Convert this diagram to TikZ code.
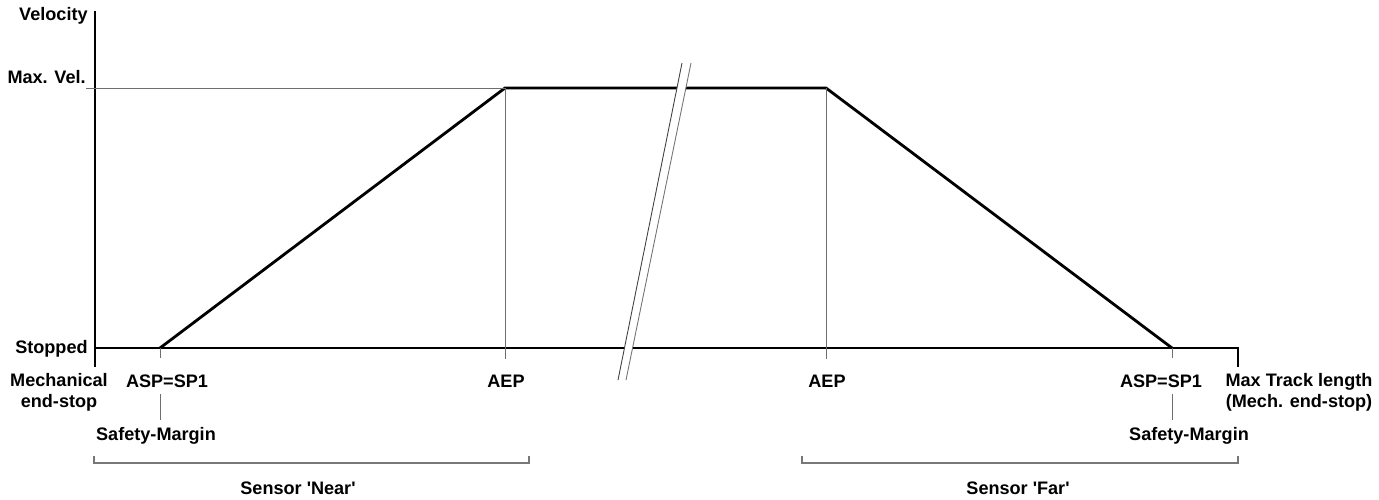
\documentclass[tikz,border=0pt]{standalone}
\usepackage{fontspec}
\setmainfont{Liberation Sans}
\usepackage{xcolor}
\usepackage{tikz}
\usetikzlibrary{positioning, calc}
\definecolor{guidegray}{RGB}{110, 110, 110}
\definecolor{bracketgray}{RGB}{120, 120, 120}

\begin{document}
\begin{tikzpicture}[x=0.02cm, y=-0.02cm,
  lbl/.style={font=\fontsize{10.3}{11.4}\selectfont\bfseries, inner sep=0pt, align=center, anchor=base},
  axisline/.style={line width=1.6pt, line cap=rect},
  profile/.style={line width=1.6pt, line join=miter},
  guide/.style={draw=guidegray, line width=0.55pt},
  bracket/.style={draw=bracketgray, line width=0.6pt},
  breakmark/.style={draw=black!75, line width=0.5pt}
]
\useasboundingbox (0,0) rectangle (1379,500);

% Axes
\coordinate (ytop) at (95,12);
\coordinate (origin) at (95,348);
\coordinate (ybot) at (95,366);
\coordinate (xend) at (1238,348);
\coordinate (xtick) at (1238,366);
\draw[axisline] (ytop) -- (ybot);
\draw[axisline] (origin) -- (xend) -- (xtick);

% Velocity profile
\coordinate (asp1) at (160,348);
\coordinate (aep1) at (505,88);
\coordinate (aep2) at (826,88);
\coordinate (asp2) at (1172,348);
\draw[profile] (asp1) -- (aep1) -- (aep2) -- (asp2);

% Guide lines
\coordinate (maxvel) at (86,88);
\coordinate (aep1b) at (505,359);
\coordinate (aep2b) at (826,359);
\coordinate (asp1b) at (160,358);
\coordinate (asp2b) at (1172,358);
\draw[guide] (maxvel) -- (aep1);
\draw[guide] (aep1) -- (aep1b);
\draw[guide] (aep2) -- (aep2b);
\draw[guide] (asp1) -- (asp1b);
\draw[guide] (asp2) -- (asp2b);

% Axis break
\coordinate (brkA) at (682,63);
\coordinate (brkB) at (691,63);
\coordinate (brkC) at (626,380);
\coordinate (brkD) at (618,380);
\fill[white] (brkA) -- (brkB) -- (brkC) -- (brkD) -- cycle;
\draw[breakmark] (brkA) -- (brkD);
\draw[breakmark, draw=black!55] (brkB) -- (brkC);

% Axis labels
\node[lbl, anchor=base east] (velocity) at (88,21) {Velocity};
\node[lbl, anchor=base east] (maxvl) at (86,84) {Max. Vel.};
\node[lbl, anchor=base east] (stopped) at (88,353) {Stopped};
\node[lbl] (mech) at (59,407) {Mechanical\\end-stop};
\node[lbl] (maxtrack) at (1299,407) {Max Track length\\(Mech. end-stop)};

% Position labels
\node[lbl] (aspl) at (167,387) {ASP=SP1};
\node[lbl] (aepl) at (506,387) {AEP};
\node[lbl] (aepr) at (827,387) {AEP};
\node[lbl] (aspr) at (1161,387) {ASP=SP1};
\node[lbl] (safel) at (156,440) {Safety-Margin};
\node[lbl] (safer) at (1189,440) {Safety-Margin};

% Safety margin ticks
\coordinate (sml1) at (160,394);
\coordinate (sml2) at (160,420);
\coordinate (smr1) at (1172,394);
\coordinate (smr2) at (1172,420);
\draw[guide] (sml1) -- (sml2);
\draw[guide] (smr1) -- (smr2);

% Sensor ranges
\coordinate (nearA) at (94,456);
\coordinate (nearB) at (94,463);
\coordinate (nearC) at (529,463);
\coordinate (nearD) at (529,456);
\coordinate (farA) at (802,456);
\coordinate (farB) at (802,463);
\coordinate (farC) at (1238,463);
\coordinate (farD) at (1238,456);
\draw[bracket] (nearA) -- (nearB) -- (nearC) -- (nearD);
\draw[bracket] (farA) -- (farB) -- (farC) -- (farD);
\node[lbl] (sensnear) at (298,494) {Sensor \textquotesingle Near\textquotesingle};
\node[lbl] (sensfar) at (1018,494) {Sensor \textquotesingle Far\textquotesingle};

\end{tikzpicture}
\end{document}
